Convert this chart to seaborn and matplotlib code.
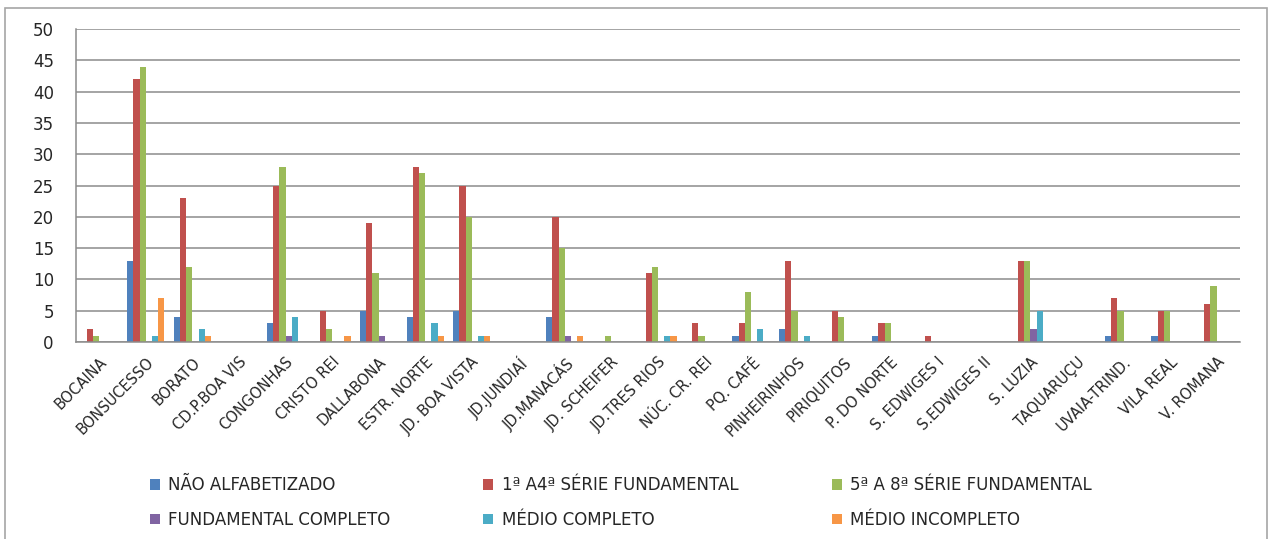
import pandas as pd
import seaborn as sns
import matplotlib.pyplot as plt
from matplotlib.patches import Rectangle

# ---------------- Data ----------------
bairros = ['BOCAINA', 'BONSUCESSO', 'BORATO', 'CD.P.BOA VIS', 'CONGONHAS', 'CRISTO REI',
           'DALLABONA', 'ESTR. NORTE', 'JD. BOA VISTA', 'JD.JUNDIAÍ', 'JD.MANACÁS',
           'JD. SCHEIFER', 'JD.TRES RIOS', 'NÚC. CR. REI', 'PQ. CAFÉ', 'PINHEIRINHOS',
           'PIRIQUITOS', 'P. DO NORTE', 'S. EDWIGES I', 'S.EDWIGES II', 'S. LUZIA',
           'TAQUARUÇU', 'UVAIA-TRIND.', 'VILA REAL', 'V. ROMANA']

nao_alfabetizado = [0, 13, 4, 0, 3, 0, 5, 4, 5, 0, 4, 0, 0, 0, 1, 2, 0, 1, 0, 0, 0, 0, 1, 1, 0]
serie_1a4 = [2, 42, 23, 0, 25, 5, 19, 28, 25, 0, 20, 0, 11, 3, 3, 13, 5, 3, 1, 0, 13, 0, 7, 5, 6]
serie_5a8 = [1, 44, 12, 0, 28, 2, 11, 27, 20, 0, 15, 1, 12, 1, 8, 5, 4, 3, 0, 0, 13, 0, 5, 5, 9]
fund_completo = [0, 0, 0, 0, 1, 0, 1, 0, 0, 0, 1, 0, 0, 0, 0, 0, 0, 0, 0, 0, 2, 0, 0, 0, 0]
medio_completo = [0, 1, 2, 0, 4, 0, 0, 3, 1, 0, 0, 0, 1, 0, 2, 1, 0, 0, 0, 0, 5, 0, 0, 0, 0]
medio_incompleto = [0, 7, 1, 0, 0, 1, 0, 1, 1, 0, 1, 0, 1, 0, 0, 0, 0, 0, 0, 0, 0, 0, 0, 0, 0]

series = ['NÃO ALFABETIZADO', '1ª A4ª SÉRIE FUNDAMENTAL', '5ª A 8ª SÉRIE FUNDAMENTAL',
          'FUNDAMENTAL COMPLETO', 'MÉDIO COMPLETO', 'MÉDIO INCOMPLETO']
colors = ['#4F81BD', '#C0504D', '#9BBB59', '#8064A2', '#4BACC6', '#F79646']

# long-form table for seaborn
values = [nao_alfabetizado, serie_1a4, serie_5a8, fund_completo, medio_completo, medio_incompleto]
rows = []
for s, vals in zip(series, values):
    for b, v in zip(bairros, vals):
        rows.append({'bairro': b, 'serie': s, 'valor': v})
df = pd.DataFrame(rows)

# ---------------- Plot ----------------
sns.set_style('white')
plt.rcParams['font.family'] = ['DejaVu Sans']

fig = plt.figure(figsize=(12.73, 5.39), dpi=100)
ax = fig.add_axes([0.0597, 0.3655, 0.9143, 0.5805])

sns.barplot(data=df, x='bairro', y='valor', hue='serie', order=bairros, hue_order=series,
            palette=colors, width=0.8, saturation=1, linewidth=0, ax=ax, legend=True)

ax.set_xlim(-0.5, len(bairros) - 0.5)
ax.set_ylim(0, 50)
ax.set_yticks(range(0, 51, 5))
ax.yaxis.grid(True, color='#8c8c8c', linewidth=1.1)
ax.set_axisbelow(True)
ax.set_xlabel('')
ax.set_ylabel('')

for side in ['top', 'right']:
    ax.spines[side].set_visible(False)
for side in ['left', 'bottom']:
    ax.spines[side].set_color('#8c8c8c')
    ax.spines[side].set_linewidth(1.1)

# category labels at centres, tick marks between categories
ax.set_xticks(range(len(bairros)))
ax.set_xticklabels(bairros, rotation=45, ha='right', rotation_mode='anchor', fontsize=10.5)
ax.set_xticks([i - 0.5 for i in range(len(bairros) + 1)], minor=True)
ax.tick_params(axis='x', which='major', length=0, pad=9)
ax.tick_params(axis='x', which='minor', length=5, color='#8c8c8c', direction='out')
ax.tick_params(axis='y', length=7, color='#8c8c8c', labelsize=12, pad=9)

# legend in rows like the original
h, l = ax.get_legend_handles_labels()
order = [0, 3, 1, 4, 2, 5]
ax.legend([h[i] for i in order], [l[i] for i in order], ncol=3, frameon=False,
          loc='center', bbox_to_anchor=(0.468, -0.5135), fontsize=12,
          handlelength=0.6, handleheight=0.6, handletextpad=0.5,
          columnspacing=5.6, labelspacing=1.0)

# outer chart border (bottom edge falls outside the image, as in the original)
fig.patches.append(Rectangle((5 / 1273, -0.01), 1262 / 1273, 1 - 8 / 539 + 0.01,
                             transform=fig.transFigure, fill=False,
                             edgecolor='#a6a6a6', linewidth=1.2))

plt.savefig('out.png', dpi=100)
